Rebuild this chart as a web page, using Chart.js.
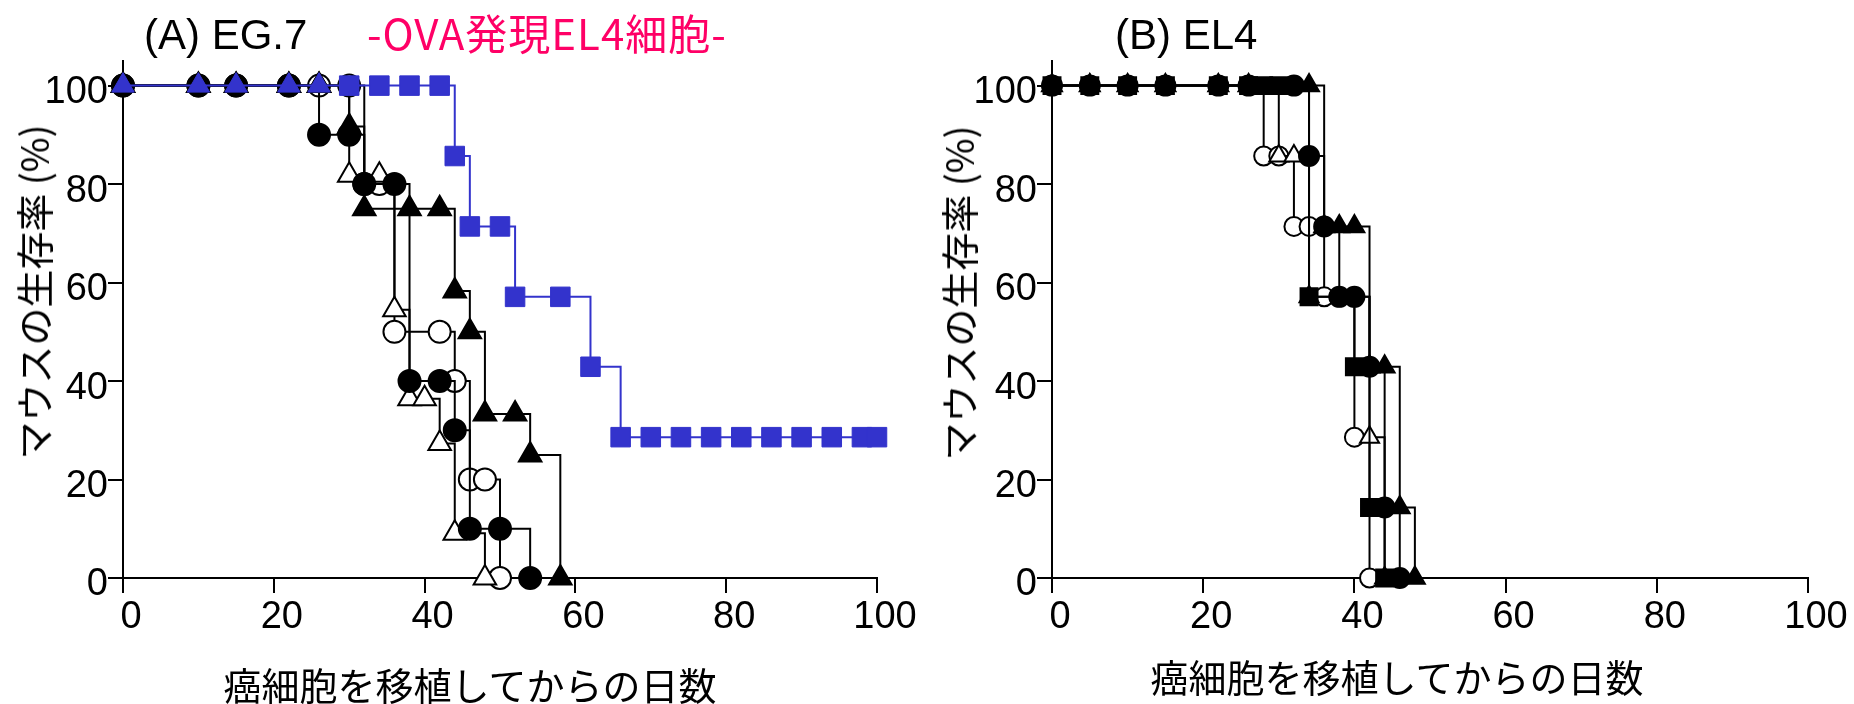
<!DOCTYPE html>
<html lang="ja">
<head>
<meta charset="utf-8">
<title>癌細胞移植後のマウス生存率</title>
<script src="https://cdn.jsdelivr.net/npm/chart.js@4.4.1/dist/chart.umd.min.js"></script>
<style>
  html, body { margin: 0; padding: 0; background: #fff; }
  #page { position: relative; width: 1854px; height: 704px; overflow: hidden; background: #fff; }
  canvas.panel { position: absolute; top: 0; }
  .label { position: absolute; white-space: nowrap; line-height: 1; color: #000; }
  .latin { font-family: "Liberation Sans", Arial, sans-serif; }
  .cjk { font-family: "Noto Sans CJK JP", "Noto Sans", sans-serif; }
  .panel-title { font-size: 42px; }
  .subtitle { font-size: 42px; letter-spacing: 1px; color: #ff0066; }
  .axis-title { font-size: 38px; transform: translate(-50%, -50%); }
  .axis-title.vertical { transform: translate(-50%, -50%) rotate(-90deg); }
</style>
</head>
<body>
<div id="page">
  <canvas id="chartA" class="panel" width="927" height="704" style="left:0"></canvas>
  <canvas id="chartB" class="panel" width="927" height="704" style="left:927px"></canvas>

  <div class="label latin panel-title" style="left:144px;top:14px">(A) EG.7</div>
  <div class="label cjk subtitle" style="left:367px;top:11px">-OVA発現EL4細胞-</div>
  <div class="label latin panel-title" style="left:1115px;top:14px">(B) EL4</div>

  <div class="label cjk axis-title vertical" style="left:33px;top:292px">マウスの生存率 (%)</div>
  <div class="label cjk axis-title vertical" style="left:958px;top:293px">マウスの生存率 (%)</div>
  <div class="label cjk axis-title" style="left:470px;top:684px">癌細胞を移植してからの日数</div>
  <div class="label cjk axis-title" style="left:1397px;top:676px">癌細胞を移植してからの日数</div>
</div>

<script>
// ---- axis ticks ----
const X_TICKS = [0, 20, 40, 60, 80, 100];
const Y_TICKS = [0, 20, 40, 60, 80, 100];

// ---- (A) EG.7 : survival (%) at each recorded day ----
const daysA_ova = [0, 10, 15, 22, 26, 30, 34, 38, 42, 44, 46, 50, 52, 58, 62, 66, 70, 74, 78, 82, 86, 90, 94, 98, 100];
const survA_ova = [100, 100, 100, 100, 100, 100, 100, 100, 100, 85.7, 71.4, 71.4, 57.1, 57.1, 42.9, 28.6, 28.6, 28.6, 28.6, 28.6, 28.6, 28.6, 28.6, 28.6, 28.6];

const daysA_filledTri = [0, 10, 15, 22, 26, 30, 32, 38, 42, 44, 46, 48, 52, 54, 58];
const survA_filledTri = [100, 100, 100, 100, 100, 91.7, 75, 75, 75, 58.3, 50, 33.3, 33.3, 25, 0];

const daysA_filledCircle = [0, 10, 15, 22, 26, 30, 32, 36, 38, 42, 44, 46, 50, 54];
const survA_filledCircle = [100, 100, 100, 100, 90, 90, 80, 80, 40, 40, 30, 10, 10, 0];

const daysA_openTri = [0, 10, 15, 22, 26, 30, 34, 36, 38, 40, 42, 44, 48];
const survA_openTri = [100, 100, 100, 100, 100, 81.8, 81.8, 54.5, 36.4, 36.4, 27.3, 9.1, 0];

const daysA_openCircle = [0, 10, 15, 22, 26, 30, 32, 34, 36, 42, 44, 46, 48, 50];
const survA_openCircle = [100, 100, 100, 100, 100, 100, 80, 80, 50, 50, 40, 20, 20, 0];

// ---- (B) EL4 ----
const daysB_filledTri = [0, 5, 10, 15, 22, 26, 34, 36, 38, 40, 42, 44, 46, 48];
const survB_filledTri = [100, 100, 100, 100, 100, 100, 100, 71.4, 71.4, 71.4, 42.9, 42.9, 14.3, 0];

const daysB_filledCircle = [0, 5, 10, 15, 22, 26, 32, 34, 36, 38, 40, 42, 44, 46];
const survB_filledCircle = [100, 100, 100, 100, 100, 100, 100, 85.7, 71.4, 57.1, 57.1, 42.9, 14.3, 0];

const daysB_filledSquare = [0, 5, 10, 15, 22, 26, 28, 30, 34, 40, 42, 44];
const survB_filledSquare = [100, 100, 100, 100, 100, 100, 100, 100, 57.1, 42.9, 14.3, 0];

const daysB_openTri = [0, 5, 10, 15, 22, 26, 30, 32, 34, 42, 44];
const survB_openTri = [100, 100, 100, 100, 100, 100, 85.7, 85.7, 57.1, 28.6, 0];

const daysB_openCircle = [0, 5, 10, 15, 22, 26, 28, 30, 32, 34, 36, 38, 40, 42];
const survB_openCircle = [100, 100, 100, 100, 100, 100, 85.7, 85.7, 71.4, 71.4, 57.1, 57.1, 28.6, 0];

const BLUE = '#3333cc';
const BLACK = '#000000';
const WHITE = '#ffffff';
const TICK_FONT = { family: '"Liberation Sans", Arial, sans-serif', size: 38 };

// Kaplan–Meier style step line: horizontal at the old level, then a drop at the event day
function kmDataset(days, surv, style) {
  return Object.assign({
    data: days.map((d, i) => ({ x: d, y: surv[i] })),
    stepped: 'before',
    borderColor: BLACK,
    borderWidth: 2,
    pointBorderColor: BLACK,
    pointBorderWidth: 2,
    fill: false,
    clip: false
  }, style);
}

function scales(yAxisWidth) {
  return {
    x: {
      type: 'linear', min: 0, max: 100,
      afterBuildTicks: s => { s.ticks = X_TICKS.map(v => ({ value: v })); },
      afterFit: s => { s.height = 126; },
      grid: { drawOnChartArea: false, drawTicks: true, tickLength: 15, color: BLACK, lineWidth: 2 },
      border: { display: true, color: BLACK, width: 2 },
      ticks: { color: BLACK, font: TICK_FONT, padding: 2, labelOffset: 8, maxRotation: 0, autoSkip: false }
    },
    y: {
      type: 'linear', min: 0, max: 105,
      afterBuildTicks: s => { s.ticks = Y_TICKS.map(v => ({ value: v })); },
      afterFit: s => { s.width = yAxisWidth; },
      grid: { drawOnChartArea: false, drawTicks: true, tickLength: 15, color: BLACK, lineWidth: 2 },
      border: { display: true, color: BLACK, width: 2 },
      ticks: { color: BLACK, font: TICK_FONT, padding: 0, labelOffset: 7, autoSkip: false }
    }
  };
}

function baseOptions(yAxisWidth, rightPad) {
  return {
    responsive: false,
    animation: false,
    devicePixelRatio: 1,
    events: [],
    layout: { padding: { left: 0, right: rightPad, top: 61, bottom: 0 } },
    plugins: { legend: { display: false }, tooltip: { enabled: false }, title: { display: false } },
    scales: scales(yAxisWidth)
  };
}

// (A) EG.7 — the first dataset is painted last (on top)
new Chart(document.getElementById('chartA'), {
  type: 'line',
  data: {
    datasets: [
      kmDataset(daysA_ova, survA_ova, {
        label: 'OVA',
        borderColor: BLUE,
        pointBorderColor: BLUE,
        pointBackgroundColor: BLUE,
        pointBorderWidth: 1,
        pointStyle: daysA_ova.map(d => d <= 26 ? 'triangle' : 'rect'),
        pointRadius: daysA_ova.map(d => d <= 26 ? 13 : 13.8)
      }),
      kmDataset(daysA_filledTri, survA_filledTri, { label: '▲', pointStyle: 'triangle', pointRadius: 13, pointBackgroundColor: BLACK }),
      kmDataset(daysA_filledCircle, survA_filledCircle, { label: '●', pointStyle: 'circle', pointRadius: 11, pointBackgroundColor: BLACK }),
      kmDataset(daysA_openTri, survA_openTri, { label: '△', pointStyle: 'triangle', pointRadius: 13, pointBackgroundColor: WHITE }),
      kmDataset(daysA_openCircle, survA_openCircle, { label: '○', pointStyle: 'circle', pointRadius: 11, pointBackgroundColor: WHITE })
    ]
  },
  options: baseOptions(123, 50)
});

// (B) EL4 — filled markers sit above the open ones
new Chart(document.getElementById('chartB'), {
  type: 'line',
  data: {
    datasets: [
      kmDataset(daysB_filledTri, survB_filledTri, { label: '▲', pointStyle: 'triangle', pointRadius: 11.5, pointBackgroundColor: BLACK }),
      kmDataset(daysB_filledCircle, survB_filledCircle, { label: '●', pointStyle: 'circle', pointRadius: 10, pointBackgroundColor: BLACK }),
      kmDataset(daysB_filledSquare, survB_filledSquare, { label: '■', pointStyle: 'rect', pointRadius: 12, pointBackgroundColor: BLACK }),
      kmDataset(daysB_openTri, survB_openTri, { label: '△', pointStyle: 'triangle', pointRadius: 11, pointBackgroundColor: WHITE }),
      kmDataset(daysB_openCircle, survB_openCircle, { label: '○', pointStyle: 'circle', pointRadius: 9.5, pointBackgroundColor: WHITE })
    ]
  },
  options: baseOptions(125, 46)
});
</script>
</body>
</html>
